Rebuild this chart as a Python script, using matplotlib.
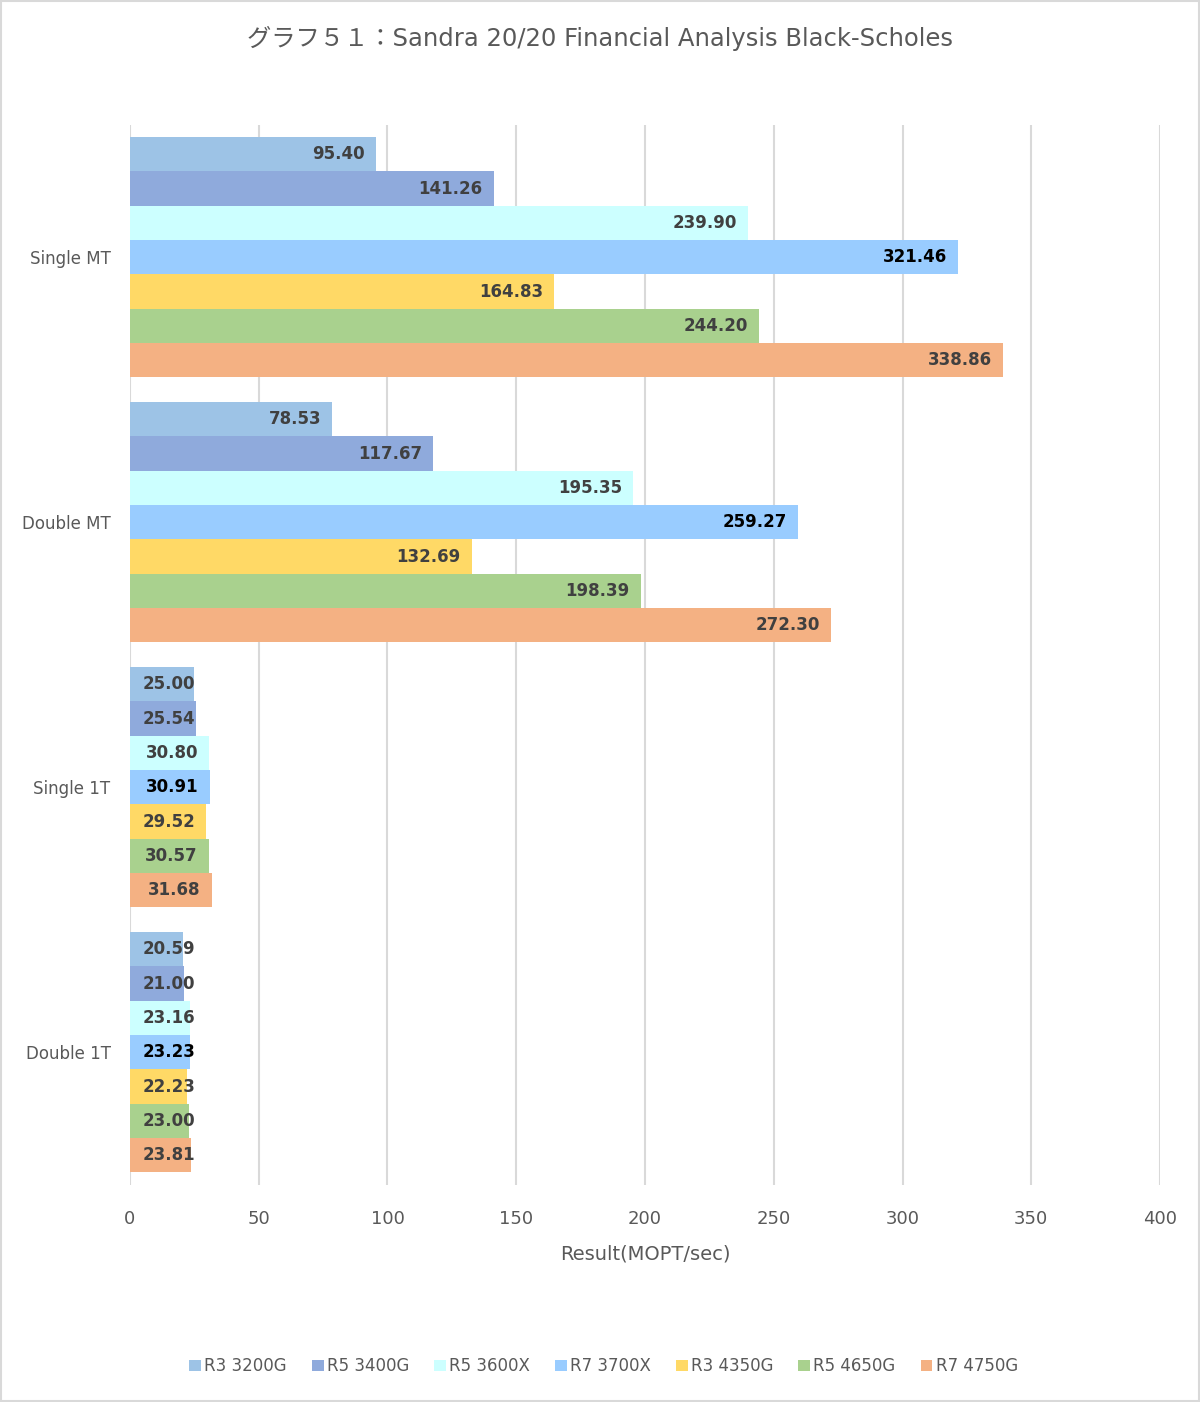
import numpy as np
import matplotlib
matplotlib.use("Agg")
from matplotlib import pyplot as plt
from matplotlib.patches import Rectangle

plt.rcParams['font.family'] = ['DejaVu Sans', 'Noto Sans CJK JP']

categories = ["Single MT", "Double MT", "Single 1T", "Double 1T"]
cpus = ["R3 3200G", "R5 3400G", "R5 3600X", "R7 3700X", "R3 4350G", "R5 4650G", "R7 4750G"]
colors = ["#9DC3E6", "#8FAADC", "#CCFFFF", "#99CCFF", "#FFD966", "#A9D18E", "#F4B183"]

# values per cpu, in category order
r3_3200g = [95.40, 78.53, 25.00, 20.59]
r5_3400g = [141.26, 117.67, 25.54, 21.00]
r5_3600x = [239.90, 195.35, 30.80, 23.16]
r7_3700x = [321.46, 259.27, 30.91, 23.23]
r3_4350g = [164.83, 132.69, 29.52, 22.23]
r5_4650g = [244.20, 198.39, 30.57, 23.00]
r7_4750g = [338.86, 272.30, 31.68, 23.81]
values = [r3_3200g, r5_3400g, r5_3600x, r7_3700x, r3_4350g, r5_4650g, r7_4750g]

fig = plt.figure(figsize=(12, 14.02), dpi=100)
ax = fig.add_axes([0.1083, 0.155, 0.8584, 0.756])

y = np.arange(len(categories))
h = 0.1295
for j, (name, vals, col) in enumerate(zip(cpus, values, colors)):
    pos = y + (j - 3) * h
    ax.barh(pos, vals, height=h, color=col, label=name, zorder=2)
    tc = "black" if name == "R7 3700X" else "#404040"
    for p, v in zip(pos, vals):
        # labels sit inside the bar end, but never start left of the bar
        ax.text(max(v - 4.3, 25.3), p, f"{v:.2f}", ha="right", va="center",
                fontsize=12, fontweight="bold", color=tc, family="DejaVu Sans", zorder=3)

ax.set_xlim(0, 400)
ax.set_ylim(len(categories) - 0.5, -0.5)
ax.set_xticks(np.arange(0, 401, 50))
ax.set_yticks(y)
ax.set_yticklabels(categories)
ax.grid(axis="x", color="#D9D9D9", linewidth=1.5, zorder=0)
ax.set_axisbelow(True)
for s in ax.spines.values():
    s.set_visible(False)
ax.tick_params(axis="both", length=0, colors="#595959")
ax.tick_params(axis="x", pad=18, labelsize=13)
ax.tick_params(axis="y", pad=14, labelsize=12)
ax.set_xlabel("Result(MOPT/sec)", fontsize=14, color="#595959", labelpad=12)

fig.text(0.5, 0.9725, "グラフ５１：Sandra 20/20 Financial Analysis Black-Scholes",
         ha="center", va="center", fontsize=17.5, color="#595959")

handles, labels = ax.get_legend_handles_labels()
fig.legend(handles, labels, loc="center", bbox_to_anchor=(0.503, 0.0255), ncol=7,
           frameon=False, fontsize=12, labelcolor="#595959", handlelength=0.7,
           handleheight=0.7, handletextpad=0.2, columnspacing=1.5)

fig.patches.append(Rectangle((0.001, 0.001), 0.998, 0.998, transform=fig.transFigure,
                             fill=False, edgecolor="#D9D9D9", linewidth=1.5))

fig.savefig("out.png", dpi=100)
